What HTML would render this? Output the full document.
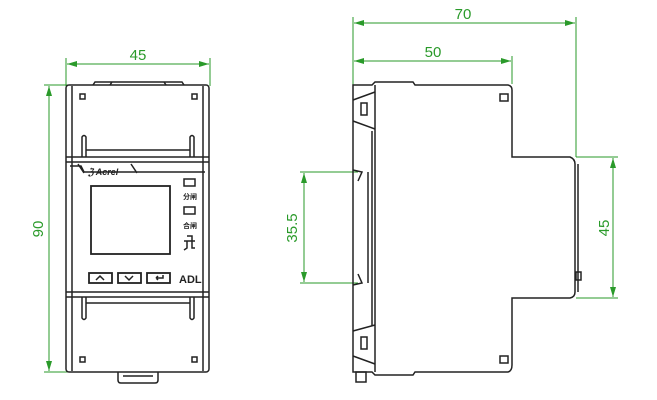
<!DOCTYPE html>
<html><head><meta charset="utf-8"><style>
html,body{margin:0;padding:0;background:#fff;width:657px;height:400px;overflow:hidden}
svg{display:block}
</style></head><body>
<svg width="657" height="400" viewBox="0 0 657 400" xmlns="http://www.w3.org/2000/svg">
<defs>
<marker id="a" viewBox="0 0 10 6" refX="10" refY="3" markerWidth="10" markerHeight="6" orient="auto-start-reverse" markerUnits="userSpaceOnUse"><path d="M0,0 L10,3 L0,6 z" fill="#2a9a2a"/></marker>
</defs>
<g stroke="#2a9a2a" stroke-width="1" fill="none">
<line x1="66" y1="58" x2="66" y2="86"/><line x1="210" y1="58" x2="210" y2="86"/>
<line x1="67" y1="64" x2="209" y2="64" marker-start="url(#a)" marker-end="url(#a)"/>
<line x1="44" y1="85" x2="68" y2="85"/><line x1="44" y1="372" x2="68" y2="372"/>
<line x1="49" y1="86" x2="49" y2="371" marker-start="url(#a)" marker-end="url(#a)"/>
<line x1="353" y1="17" x2="353" y2="86"/><line x1="576" y1="17" x2="576" y2="157"/>
<line x1="512" y1="56" x2="512" y2="84"/>
<line x1="354" y1="23" x2="575" y2="23" marker-start="url(#a)" marker-end="url(#a)"/>
<line x1="354" y1="61" x2="511" y2="61" marker-start="url(#a)" marker-end="url(#a)"/>
<line x1="300" y1="172" x2="358" y2="172"/><line x1="300" y1="283" x2="358" y2="283"/>
<line x1="304" y1="173" x2="304" y2="282" marker-start="url(#a)" marker-end="url(#a)"/>
<line x1="576" y1="157" x2="618" y2="157"/><line x1="576" y1="298" x2="618" y2="298"/>
<line x1="613" y1="158" x2="613" y2="297" marker-start="url(#a)" marker-end="url(#a)"/>
</g>
<g fill="#2a9a2a" font-family="Liberation Sans, sans-serif" font-size="15">
<text x="138" y="60" text-anchor="middle">45</text>
<text x="463" y="19" text-anchor="middle">70</text>
<text x="433" y="57" text-anchor="middle">50</text>
<text transform="translate(43,229) rotate(-90)" text-anchor="middle">90</text>
<text transform="translate(297,228) rotate(-90)" text-anchor="middle">35.5</text>
<text transform="translate(609,228) rotate(-90)" text-anchor="middle">45</text>
</g>
<g stroke="#222" stroke-width="1.5" fill="none">
<rect x="66" y="85" width="143" height="287" rx="3"/>
<line x1="72" y1="86" x2="72" y2="371"/><line x1="203" y1="86" x2="203" y2="371"/>
<path d="M93,85 L95,82 L164,82 L166,85 M110,85 L112,82 L182,82 L184,85"/>
<line x1="66" y1="157" x2="209" y2="157"/><line x1="66" y1="162" x2="209" y2="162"/>
<line x1="66" y1="292" x2="209" y2="292"/><line x1="66" y1="297" x2="209" y2="297"/>
<rect x="80" y="94" width="5" height="5"/><rect x="192" y="94" width="5" height="5"/>
<rect x="80" y="357" width="5" height="5"/><rect x="192" y="357" width="5" height="5"/>
<path d="M82,157 L82,137 Q84,134 86,137 L86,157 M190,157 L190,137 Q192,134 194,137 L194,157 M86,150 L190,150"/>
<path d="M82,297 L82,318 Q84,321 86,318 L86,297 M190,297 L190,318 Q192,321 194,318 L194,297 M86,303 L190,303"/>
<path d="M118,372 L118,380 Q118,383 121,383 L155,383 Q158,383 158,380 L158,372 M123,376 L153,376"/>
<path d="M70,166 L81,166 L84,172 L205,172 M78,164 L84,173 M131,164 L137,173"/>
<rect x="91" y="186" width="79" height="68" stroke-width="1.8"/>
<rect x="89" y="273" width="23" height="10" stroke-width="1.8"/>
<rect x="118" y="273" width="23" height="10" stroke-width="1.8"/>
<rect x="147" y="273" width="23" height="10" stroke-width="1.8"/>
<path d="M96,280 L100,276 L104,280 M125,276 L129,280 L133,276 M156,278 L163,278 L163,275 M156,278 L158,276 M156,278 L158,280"/>
<rect x="184" y="179" width="11" height="7"/><rect x="184" y="207" width="11" height="7"/>
<path d="M184,241 L195,241 M187,236 L192,236 L192,241 M187,241 L187,248 L184,250 M192,241 L192,248 L195,248"/>
</g>
<g font-family="Liberation Sans, 'Noto Sans CJK SC', sans-serif" fill="#222">
<text x="88" y="175" font-size="9" font-style="italic" font-weight="bold">ℨ Acrel</text>
<text x="183" y="199" font-size="7" font-weight="bold">分闸</text>
<text x="183" y="228" font-size="7" font-weight="bold">合闸</text>
<text x="179" y="283" font-size="11" font-weight="bold">ADL</text>
</g>
<g stroke="#222" stroke-width="1.5" fill="none">
<path d="M353,85 L372,85 L375,82 L413,82 L415,85 L508,85 Q512,86 512,90 L512,157 L570,157 Q575,159 575,164 L575,292 Q575,297 570,298 L512,298 L512,365 Q512,371 508,372 L415,372 L413,375 L375,375 L372,372 L353,372 Z"/>
<line x1="375" y1="85" x2="375" y2="372"/><line x1="372" y1="131" x2="372" y2="326"/>
<path d="M375,92 L353,100 M353,121 L375,129 M353,170 L362,172 L358,181 M353,285 L362,283 L358,274 M353,331 L375,325 M353,356 L375,364"/>
<line x1="368" y1="172" x2="368" y2="283"/>
<rect x="361" y="103" width="6" height="12"/><rect x="361" y="337" width="6" height="12"/>
<rect x="500" y="94" width="8" height="7"/><rect x="500" y="356" width="8" height="7"/>
<rect x="576" y="272" width="5" height="8"/>
<rect x="356" y="372" width="10" height="10"/>
<line x1="578" y1="164" x2="578" y2="292"/>
</g>
</svg>
</body></html>
